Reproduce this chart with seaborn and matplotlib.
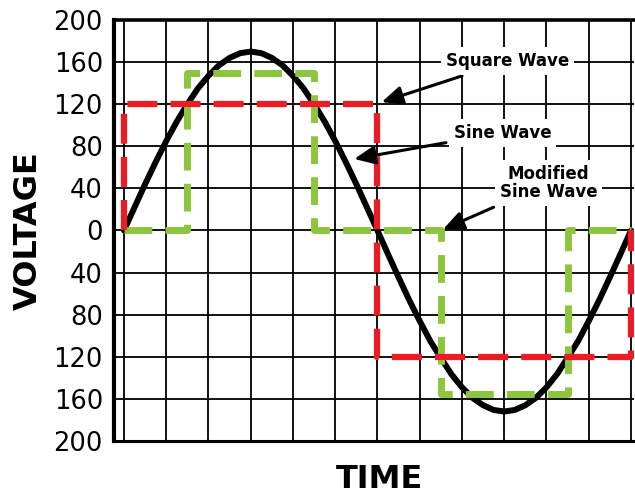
import pandas as pd
import matplotlib
matplotlib.use("Agg")
import matplotlib.pyplot as plt
import seaborn as sns

# values
sine_time = [0, 0.25, 0.5, 0.75, 1, 1.25, 1.5, 1.75, 2, 2.25, 2.5, 2.75, 3,
             3.25, 3.5, 3.75, 4, 4.25, 4.5, 4.75, 5, 5.25, 5.5, 5.75, 6,
             6.25, 6.5, 6.75, 7, 7.25, 7.5, 7.75, 8, 8.25, 8.5, 8.75, 9,
             9.25, 9.5, 9.75, 10, 10.25, 10.5, 10.75, 11, 11.25, 11.5, 11.75, 12]
sine_volts = [0, 22, 44, 65, 85, 103.5, 120, 135, 147, 157, 164, 168.5, 170,
              168.5, 164, 157, 147, 135, 120, 103.5, 85, 65, 44, 22, 0,
              -22.5, -44.5, -66, -86, -105, -121, -136.5, -149, -159, -166, -170.5, -172,
              -170.5, -166, -159, -149, -136.5, -121, -105, -86, -66, -44.5, -22.5, 0]

square_time = [0, 0, 6, 6, 12, 12]
square_volts = [0, 120, 120, -120, -120, 0]

modified_time = [0, 1.5, 1.5, 4.5, 4.5, 7.5, 7.5, 10.5, 10.5, 12]
modified_volts = [0, 0, 150, 150, 0, 0, -155, -155, 0, 0]

ytick_values = [200, 160, 120, 80, 40, 0, -40, -80, -120, -160, -200]
ytick_labels = ["200", "160", "120", "80", "40", "0", "40", "80", "120", "160", "200"]

sine_df = pd.DataFrame({"time": sine_time, "volts": sine_volts})
square_df = pd.DataFrame({"time": square_time, "volts": square_volts})
modified_df = pd.DataFrame({"time": modified_time, "volts": modified_volts})

sns.set_style("white")
plt.rcParams["font.family"] = ["DejaVu Sans"]
plt.rcParams["text.color"] = "black"
plt.rcParams["ytick.color"] = "black"
plt.rcParams["xtick.color"] = "black"

fig = plt.figure(figsize=(6.35, 4.94), dpi=100)
ax = fig.add_axes([114 / 635, 53 / 494, 519.5 / 635, 421 / 494])

# sine wave (bottom), modified sine (middle), square wave (top)
sns.lineplot(data=sine_df, x="time", y="volts", sort=False, estimator=None,
             color="black", linewidth=4.3, ax=ax, zorder=3,
             solid_joinstyle="round", solid_capstyle="round")
sns.lineplot(data=modified_df, x="time", y="volts", sort=False, estimator=None,
             color="#8cc63f", linewidth=5, linestyle=(0, (4.0, 1.9)), ax=ax, zorder=4)
sns.lineplot(data=square_df, x="time", y="volts", sort=False, estimator=None,
             color="#ed1c24", linewidth=4.5, linestyle=(0, (4.8, 2.1)), ax=ax, zorder=5)

ax.set_xlim(-0.236, 12.06)
ax.set_ylim(-200, 200)
ax.set_xticks(range(0, 13))
ax.set_xticklabels([])
ax.set_yticks(ytick_values)
ax.set_yticklabels(ytick_labels, fontsize=18.5, color="black")
ax.tick_params(axis="both", length=0)
ax.tick_params(axis="y", pad=8)
ax.grid(True, color="black", linewidth=1.3)
ax.set_axisbelow(True)
ax.set_xlabel("")
ax.set_ylabel("")

for side in ["left", "top", "bottom"]:
    ax.spines[side].set_color("black")
ax.spines["left"].set_linewidth(3)
ax.spines["top"].set_linewidth(2.6)
ax.spines["bottom"].set_linewidth(2.2)
ax.spines["right"].set_visible(False)

box = dict(boxstyle="square,pad=0.3", fc="white", ec="none")
arrow = dict(arrowstyle="-|>,head_length=0.9,head_width=0.4", color="black",
             lw=2.2, mutation_scale=14, shrinkA=2, shrinkB=0)

ax.annotate("Square Wave", xy=(6.1, 122), xytext=(9.08, 161),
            fontsize=12, fontweight="bold", ha="center", va="center",
            color="black", bbox=box, arrowprops=arrow, zorder=6)
ax.annotate("Sine Wave", xy=(5.45, 68), xytext=(8.96, 93),
            fontsize=12, fontweight="bold", ha="center", va="center",
            color="black", bbox=box, arrowprops=arrow, zorder=6)
ax.annotate("Modified\nSine Wave", xy=(7.55, 1), xytext=(10.05, 45),
            fontsize=12, fontweight="bold", ha="center", va="center",
            multialignment="center", linespacing=1.0, color="black",
            bbox=box, arrowprops=arrow, zorder=6)

fig.text(28 / 635, 1 - 231 / 494, "VOLTAGE", rotation=90, fontsize=23,
         fontweight="bold", ha="center", va="center", color="black")
fig.text(379 / 635, 1 - 479 / 494, "TIME", fontsize=23,
         fontweight="bold", ha="center", va="center", color="black")

fig.savefig("out.png", dpi=100)
